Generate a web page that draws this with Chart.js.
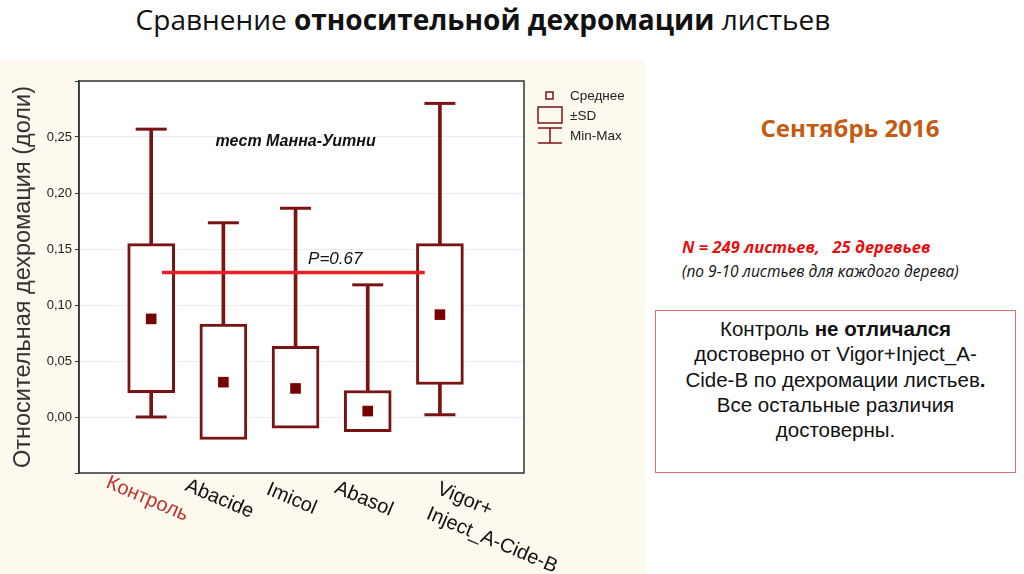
<!DOCTYPE html>
<html>
<head>
<meta charset="utf-8">
<script src="https://cdn.jsdelivr.net/npm/chart.js@4.4.1/dist/chart.umd.min.js"></script>
<style>
  body { margin: 0; width: 1024px; height: 574px; background: #fff; position: relative; overflow: hidden;
         font-family: 'Liberation Sans', Arial, sans-serif; }
  #title { position: absolute; left: 0; width: 966px; top: 0px; text-align: center;
           font: 28px 'Open Sans', sans-serif; color: #111; }
  #panel { position: absolute; left: 0; top: 60px; width: 645px; height: 514px; background: #fdf9ef; }
  #month { position: absolute; left: 700px; width: 300px; top: 111px; text-align: center;
           font: bold 24px 'Open Sans', sans-serif; color: #c55a11; }
  #n1 { position: absolute; left: 682px; top: 235px; font: italic bold 16.5px 'Open Sans', sans-serif; color: #e61010; white-space: pre; }
  #n2 { position: absolute; left: 682px; top: 260px; font: italic 15.5px 'Open Sans', sans-serif; color: #111; }
  #note { position: absolute; left: 655px; top: 310px; width: 361px; height: 163px; border: 1px solid #e07070;
          text-align: center; font: 20.5px 'Liberation Sans', Arial, sans-serif; line-height: 25.3px; color: #111;
          padding-top: 5px; box-sizing: border-box; background: #fff; }
</style>
</head>
<body>
<div id="title">Сравнение <b>относительной дехромации</b> листьев</div>
<div id="panel"><canvas id="boxChart" width="645" height="514"></canvas></div>
<div id="month">Сентябрь 2016</div>
<div id="n1">N = 249 листьев,   25 деревьев</div>
<div id="n2">(по 9-10 листьев для каждого дерева)</div>
<div id="note">Контроль <b>не отличался</b><br>достоверно от Vigor+Inject_A-<br>Cide-B по дехромации листьев<b>.</b><br>Все остальные различия<br>достоверны.</div>

<script>
// values (relative dechromation, share)
const categories = ["Контроль", "Abacide", "Imicol", "Abasol", "Vigor+\nInject_A-Cide-B"];
const means  = [0.0876, 0.0311, 0.0255, 0.0053, 0.0914];
const sdLow  = [0.0217, -0.0201, -0.0100, -0.0130, 0.0290];
const sdHigh = [0.1548, 0.0829, 0.0630, 0.0237, 0.1548];
const minVals = [0.000, 0.000, 0.000, 0.000, 0.002];
const maxVals = [0.257, 0.1734, 0.1864, 0.118, 0.280];
const yTickStep = 0.05;
// Mann-Whitney comparison line (Контроль vs Vigor+...)
const pLineX = [0.15, 3.79];
const pLineY = 0.129;
const pText = "P=0.67";
const testText = "тест Манна-Уитни";

const maroon = "#7a1414";
const xs = categories.map((c, i) => i);

const frame = {
  id: "frame",
  beforeDraw(chart) {
    const a = chart.chartArea, ctx = chart.ctx;
    ctx.save();
    ctx.fillStyle = "#fff";
    ctx.fillRect(a.left, a.top, a.right - a.left, a.bottom - a.top);
    ctx.restore();
  },
  afterDraw(chart) {
    const a = chart.chartArea, ctx = chart.ctx;
    const x = chart.scales.x, y = chart.scales.y;
    ctx.save();
    ctx.strokeStyle = "#333";
    ctx.lineWidth = 1.5;
    ctx.strokeRect(a.left, a.top, a.right - a.left, a.bottom - a.top);

    // category labels, rotated
    ctx.font = "20px 'Liberation Sans', Arial, sans-serif";
    const ang = 23 * Math.PI / 180;
    categories.forEach((c, i) => {
      const px = x.getPixelForValue(i);
      const lines = c.split("\n");
      ctx.fillStyle = i === 0 ? "#c0302c" : "#111";
      ctx.save();
      if (lines.length === 1) {
        ctx.translate(px - 4, a.bottom + 26);
        ctx.rotate(ang);
        ctx.textAlign = "center";
        ctx.textBaseline = "middle";
        ctx.fillText(c, 0, 0);
      } else {
        ctx.translate(px + 2, a.bottom + 6);
        ctx.rotate(ang);
        ctx.textAlign = "left";
        ctx.textBaseline = "top";
        lines.forEach((l, k) => ctx.fillText(l, 0, k * 27));
      }
      ctx.restore();
    });

    // annotations
    ctx.fillStyle = "#111";
    ctx.textAlign = "center";
    ctx.textBaseline = "middle";
    ctx.font = "italic bold 16px 'Liberation Sans', Arial, sans-serif";
    ctx.fillText(testText, x.getPixelForValue(2), y.getPixelForValue(0.2456));
    ctx.font = "italic 17px 'Liberation Sans', Arial, sans-serif";
    ctx.fillText(pText, x.getPixelForValue(2.55), y.getPixelForValue(0.1407));

    // legend
    const lx = a.right + 14, ty = a.top;
    ctx.strokeStyle = maroon;
    ctx.lineWidth = 1.5;
    ctx.strokeRect(lx + 8, ty + 11, 7, 7);
    ctx.strokeRect(lx, ty + 26, 24, 16);
    ctx.beginPath();
    ctx.moveTo(lx, ty + 47); ctx.lineTo(lx + 24, ty + 47);
    ctx.moveTo(lx + 12, ty + 47); ctx.lineTo(lx + 12, ty + 62);
    ctx.moveTo(lx, ty + 62); ctx.lineTo(lx + 24, ty + 62);
    ctx.stroke();
    ctx.fillStyle = "#222";
    ctx.textAlign = "left";
    ctx.font = "13.5px 'Liberation Sans', Arial, sans-serif";
    ctx.fillText("Среднее", lx + 32, ty + 15);
    ctx.fillText("±SD", lx + 32, ty + 35);
    ctx.fillText("Min-Max", lx + 32, ty + 55);
    ctx.restore();
  }
};

new Chart(document.getElementById("boxChart"), {
  type: "bar",
  data: {
    datasets: [
      {
        type: "line",
        data: pLineX.map(v => ({ x: v, y: pLineY })),
        borderColor: "#ee1c24",
        borderWidth: 3.5,
        pointRadius: 0,
        order: 0,
      },
      {
        type: "scatter",
        label: "Среднее",
        data: xs.map(i => ({ x: i, y: means[i] })),
        pointStyle: "rect",
        pointRadius: 7.5,
        backgroundColor: "#780000",
        borderWidth: 0,
        order: 1,
      },
      {
        label: "±SD",
        data: xs.map(i => ({ x: i, y: [sdLow[i], sdHigh[i]] })),
        backgroundColor: "#fff",
        borderColor: maroon,
        borderWidth: 3,
        borderSkipped: false,
        barThickness: 47,
        grouped: false,
        order: 2,
      },
      {
        type: "scatter",
        label: "caps",
        data: xs.map(i => ({ x: i, y: maxVals[i] })).concat(xs.map(i => ({ x: i, y: minVals[i] }))),
        pointStyle: "line",
        pointRadius: 15.5,
        borderColor: maroon,
        borderWidth: 3,
        order: 3,
      },
      {
        label: "Min-Max",
        data: xs.map(i => ({ x: i, y: [minVals[i], maxVals[i]] })),
        backgroundColor: maroon,
        borderWidth: 0,
        barThickness: 3,
        grouped: false,
        order: 4,
      },
    ],
  },
  options: {
    responsive: false,
    animation: false,
    layout: { padding: { left: 0, top: 21, right: 121, bottom: 101 } },
    plugins: { legend: { display: false }, tooltip: { enabled: false } },
    scales: {
      x: { type: "linear", min: -1.0, max: 5.165, offset: false, display: false },
      y: {
        min: -0.05,
        max: 0.30,
        afterFit: s => { s.width = 79; },
        ticks: {
          stepSize: yTickStep,
          padding: 3,
          color: "#222",
          font: { size: 13, family: "'Liberation Sans', Arial, sans-serif" },
          callback: v => (v < -0.001 || v > 0.251) ? "" : Math.abs(v).toFixed(2).replace(".", ","),
        },
        grid: { color: "#ececec", tickColor: "#333", tickLength: 4 },
        border: { color: "#333", width: 1.5 },
        title: {
          display: true,
          text: "Относительная дехромация (доли)",
          color: "#333",
          font: { size: 23.5, family: "'Liberation Sans', Arial, sans-serif" },
          padding: { top: 9, bottom: 0 },
        },
      },
    },
  },
  plugins: [frame],
});
</script>
</body>
</html>
